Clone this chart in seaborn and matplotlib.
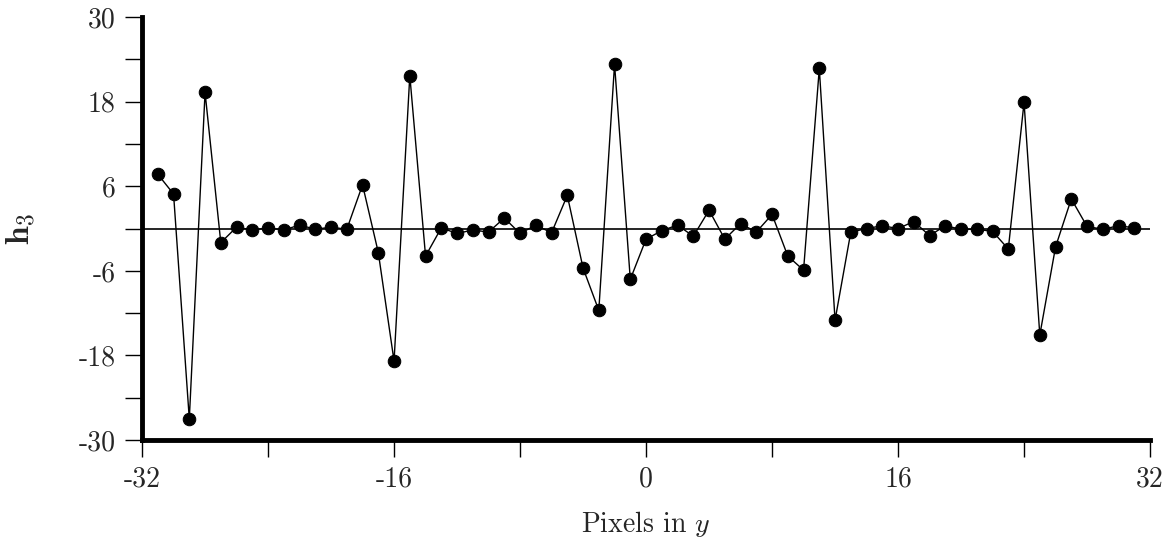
import numpy as np
import pandas as pd
import matplotlib
matplotlib.use("Agg")
import matplotlib.pyplot as plt
import seaborn as sns

# pixel offsets along y and the h3 coefficient
pixels = list(range(-31, 32))
h3 = [7.7, 4.9, -27.0, 19.3, -2.0, 0.2, -0.2, 0.1, -0.2, 0.5, -0.1, 0.2, -0.1,
      6.2, -3.4, -18.8, 21.7, -3.9, 0.1, -0.7, -0.2, -0.5, 1.5, -0.7, 0.5, -0.6,
      4.7, -5.6, -11.6, 23.3, -7.2, -1.5, -0.3, 0.5, -1.1, 2.6, -1.5, 0.7, -0.5,
      2.0, -3.9, -5.9, 22.7, -13.0, -0.5, 0.0, 0.4, 0.0, 1.0, -1.0, 0.4, -0.1,
      -0.1, -0.4, -2.9, 17.9, -15.1, -2.6, 4.2, 0.3, -0.1, 0.4, 0.1]

xticks = list(range(-32, 33, 8))
xlabels = ["-32", "", "-16", "", "0", "", "16", "", "32"]
yticks = list(range(-30, 31, 6))
ylabels = ["-30", "", "-18", "", "-6", "", "6", "", "18", "", "30"]

sns.set_style("ticks")
plt.rcParams["font.family"] = "serif"
plt.rcParams["font.serif"] = ["cmr10", "DejaVu Serif"]
plt.rcParams["mathtext.fontset"] = "cm"
plt.rcParams["axes.unicode_minus"] = False

df = pd.DataFrame({"y": pixels, "h3": h3})

fig = plt.figure(figsize=(11.74, 5.42), dpi=100)
ax = fig.add_axes([0.121, 0.188, 0.8586, 0.7806])

ax.axhline(0, color="black", lw=1.2, zorder=1)
sns.lineplot(data=df, x="y", y="h3", color="black", lw=1.0, marker="o",
             markersize=9, markeredgecolor="black", markerfacecolor="black",
             ax=ax, zorder=2)

ax.set_xlim(-32, 32)
ax.set_ylim(-30, 30)
ax.set_xticks(xticks)
ax.set_xticklabels(xlabels)
ax.set_yticks(yticks)
ax.set_yticklabels(ylabels)
ax.tick_params(axis="both", labelsize=20, length=12, width=1.0, pad=7,
               color="black")

sns.despine(ax=ax)
for side in ["left", "bottom"]:
    ax.spines[side].set_linewidth(3.5)
    ax.spines[side].set_color("black")

ax.set_xlabel("Pixels in $y$", fontsize=20, labelpad=12)
ax.set_ylabel(r"$\mathbf{h}_\mathbf{3}$", fontsize=24, labelpad=30)

fig.savefig("out.png", dpi=100)
